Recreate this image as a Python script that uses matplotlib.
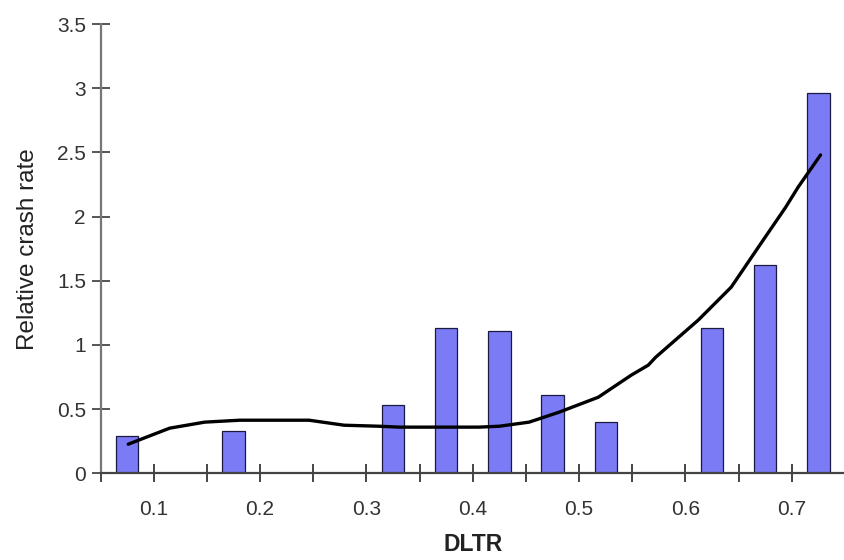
import matplotlib
matplotlib.use("Agg")
import matplotlib.pyplot as plt
import numpy as np

plt.rcParams['font.family'] = ['Liberation Sans', 'DejaVu Sans']

# Data
bar_x = [0.075, 0.175, 0.325, 0.375, 0.425, 0.475, 0.525, 0.625, 0.675, 0.725]
bar_h = [0.29, 0.33, 0.53, 1.13, 1.11, 0.61, 0.40, 1.13, 1.62, 2.96]

trend_x = [0.076, 0.115, 0.148, 0.181, 0.246, 0.279, 0.312, 0.331, 0.406, 0.425,
           0.453, 0.481, 0.518, 0.549, 0.565, 0.572, 0.612, 0.643, 0.659, 0.675,
           0.694, 0.706, 0.727]
trend_y = [0.226, 0.351, 0.398, 0.413, 0.413, 0.374, 0.366, 0.359, 0.359, 0.366,
           0.398, 0.475, 0.592, 0.764, 0.842, 0.904, 1.193, 1.45, 1.645, 1.84,
           2.07, 2.23, 2.48]

xticks = [0.05, 0.1, 0.15, 0.2, 0.25, 0.3, 0.35, 0.4, 0.45, 0.5, 0.55, 0.6, 0.65, 0.7, 0.75]
xticklabels = ['', '0.1', '', '0.2', '', '0.3', '', '0.4', '', '0.5', '', '0.6', '', '0.7', '']
yticks = [0, 0.5, 1, 1.5, 2, 2.5, 3, 3.5]
yticklabels = ['0', '0.5', '1', '1.5', '2', '2.5', '3', '3.5']

fig = plt.figure(figsize=(8.45, 5.6), dpi=100)
ax = fig.add_axes([0.119, 0.155, 0.881, 0.802])

ax.bar(bar_x, bar_h, width=0.021, color='#7B7BF5', edgecolor='#1a1a40', linewidth=0.9, zorder=2)
ax.plot(trend_x, trend_y, color='black', linewidth=2.4, zorder=3, solid_capstyle='round')

ax.set_xlim(0.05, 0.75)
ax.set_ylim(0, 3.5)
ax.set_xticks(xticks)
ax.set_xticklabels(xticklabels)
ax.set_yticks(yticks)
ax.set_yticklabels(yticklabels)

for s in ['top', 'right']:
    ax.spines[s].set_visible(False)
ax.spines['left'].set_color('#777777')
ax.spines['bottom'].set_color('#444444')
ax.spines['left'].set_linewidth(1.6)
ax.spines['bottom'].set_linewidth(1.6)
ax.spines['left'].set_zorder(4)
ax.spines['bottom'].set_zorder(4)

ax.tick_params(axis='x', direction='inout', length=13, width=1.4, color='#444444',
               pad=13, labelsize=15, labelcolor='#333333')
ax.tick_params(axis='y', direction='inout', length=13, width=1.4, color='#555555',
               pad=4, labelsize=15, labelcolor='#333333')

ax.set_xlabel('DLTR', fontsize=16.5, fontweight='bold', color='#222222', labelpad=10)
ax.set_ylabel('Relative crash rate', fontsize=17.5, color='#222222', labelpad=13)

fig.savefig('out.png', dpi=100)
